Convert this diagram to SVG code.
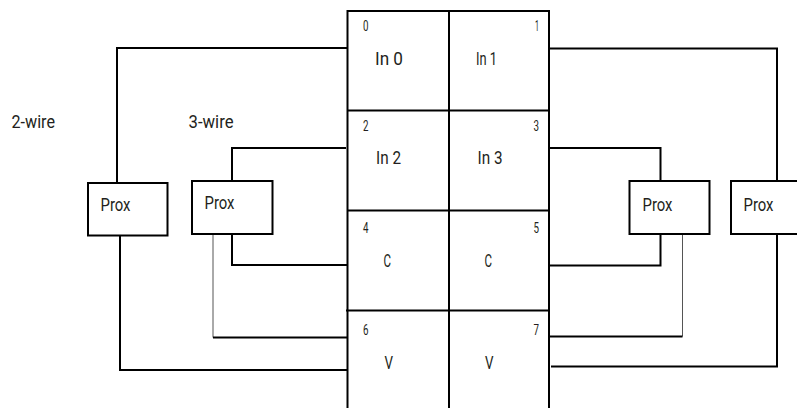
<svg xmlns="http://www.w3.org/2000/svg" width="797" height="408" viewBox="0 0 797 408">
<style>
.w{fill:none;stroke:#000;stroke-width:2}
.t{fill:none;stroke:#555;stroke-width:1}
.b{fill:#fff;stroke:#000;stroke-width:2}
text{font-family:Roboto,"Liberation Sans",sans-serif;fill:#231f20}
.l{font-size:19px}
.n{font-size:15px}
</style>
<rect width="797" height="408" fill="#fff"/>
<g id="connectors">
<polyline class="w" points="117,183 117,48 348,48"/>
<polyline class="w" points="120,235 120,370 348,370"/>
<polyline class="w" points="232,181 232,148 346,148"/>
<polyline class="w" points="232,234 232,265 348,265"/>
<polyline class="t" points="213,234 213,337.5"/>
<line class="w" x1="213" y1="337.5" x2="348" y2="337.5"/>
<polyline class="w" points="549,48.5 777,48.5 777,181"/>
<polyline class="w" points="777,234 777,366.5 551,366.5"/>
<polyline class="w" points="549,148 660.5,148 660.5,181"/>
<polyline class="w" points="660.5,234 660.5,265.5 549,265.5"/>
<polyline class="t" points="682.5,234 682.5,336.5"/>
<line class="w" x1="682.5" y1="336.5" x2="549" y2="336.5"/>
</g>
<g id="terminal-block">
<polyline class="w" points="347.5,408 347.5,11 549,11 549,408"/>
<line class="w" x1="449" y1="11" x2="449" y2="408"/>
<line class="w" x1="347" y1="110.5" x2="549" y2="110.5"/>
<line class="w" x1="347" y1="210.5" x2="549" y2="210.5"/>
<line class="w" x1="346" y1="310.5" x2="549" y2="310.5"/>
</g>
<g id="cell-0"><text class="n" x="363" y="30.5" textLength="5.5" lengthAdjust="spacingAndGlyphs">0</text><text class="l" x="375" y="65" textLength="28" lengthAdjust="spacingAndGlyphs">In 0</text></g>
<g id="cell-1"><text class="n" x="539" y="30.5" text-anchor="end" textLength="4" lengthAdjust="spacingAndGlyphs">1</text><text class="l" x="476" y="65" textLength="21" lengthAdjust="spacingAndGlyphs">In 1</text></g>
<g id="cell-2"><text class="n" x="363" y="130.5" textLength="5.5" lengthAdjust="spacingAndGlyphs">2</text><text class="l" x="376" y="163.5" textLength="25" lengthAdjust="spacingAndGlyphs">In 2</text></g>
<g id="cell-3"><text class="n" x="539" y="130.5" text-anchor="end" textLength="5.5" lengthAdjust="spacingAndGlyphs">3</text><text class="l" x="477.5" y="163.5" textLength="25" lengthAdjust="spacingAndGlyphs">In 3</text></g>
<g id="cell-4"><text class="n" x="363" y="232.5" textLength="5.5" lengthAdjust="spacingAndGlyphs">4</text><text class="l" x="383.5" y="266.5" textLength="7.5" lengthAdjust="spacingAndGlyphs">C</text></g>
<g id="cell-5"><text class="n" x="539" y="232.5" text-anchor="end" textLength="5.5" lengthAdjust="spacingAndGlyphs">5</text><text class="l" x="484.5" y="266.5" textLength="7.5" lengthAdjust="spacingAndGlyphs">C</text></g>
<g id="cell-6"><text class="n" x="363" y="335" textLength="5.5" lengthAdjust="spacingAndGlyphs">6</text><text class="l" x="384.5" y="368.5" textLength="8.5" lengthAdjust="spacingAndGlyphs">V</text></g>
<g id="cell-7"><text class="n" x="539" y="335" text-anchor="end" textLength="5.5" lengthAdjust="spacingAndGlyphs">7</text><text class="l" x="485" y="368.5" textLength="8.5" lengthAdjust="spacingAndGlyphs">V</text></g>
<g id="prox-2wire-left"><rect class="b" x="88" y="183" width="79.5" height="52.5"/><text class="l" x="100.5" y="210.5" textLength="30" lengthAdjust="spacingAndGlyphs">Prox</text></g>
<g id="prox-3wire-left"><rect class="b" x="192" y="181" width="80.5" height="53"/><text class="l" x="204.5" y="208.5" textLength="30" lengthAdjust="spacingAndGlyphs">Prox</text></g>
<g id="prox-3wire-right"><rect class="b" x="629.5" y="181" width="80" height="53"/><text class="l" x="642.5" y="210.5" textLength="30" lengthAdjust="spacingAndGlyphs">Prox</text></g>
<g id="prox-2wire-right"><rect class="b" x="731" y="181" width="80" height="53"/><text class="l" x="743.5" y="210.5" textLength="30" lengthAdjust="spacingAndGlyphs">Prox</text></g>
<g id="labels"><text class="l" x="11.5" y="127.5" textLength="43.5" lengthAdjust="spacingAndGlyphs">2-wire</text><text class="l" x="188.5" y="127.5" textLength="45" lengthAdjust="spacingAndGlyphs">3-wire</text></g>
</svg>
